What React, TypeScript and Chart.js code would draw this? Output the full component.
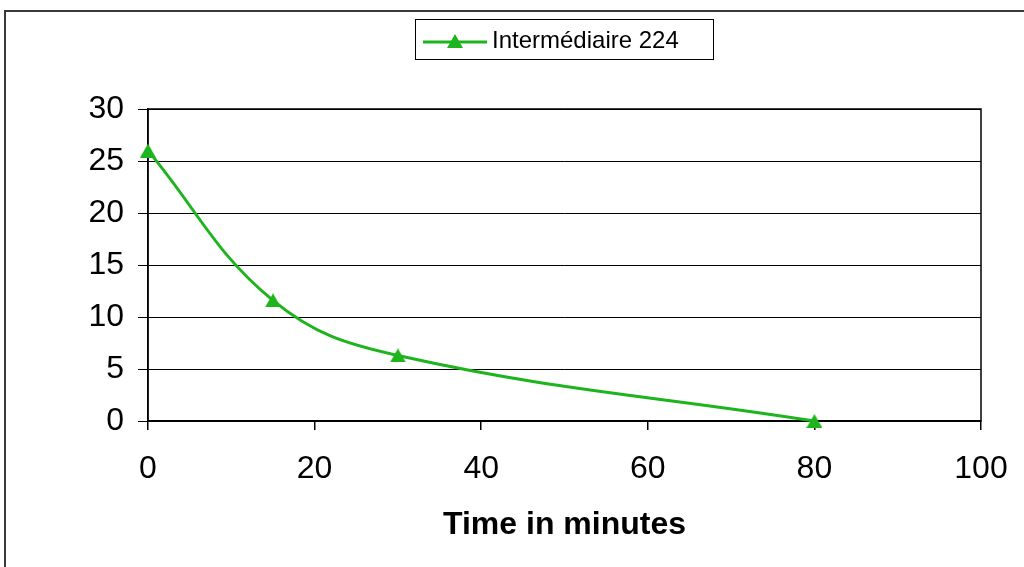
import React, { useEffect, useRef } from "react";
import { Chart, registerables } from "chart.js";

Chart.register(...registerables);

const seriesLabel = "Intermédiaire 224";
const timeMinutes = [0, 15, 30, 80];
const values = [26, 11.6, 6.3, 0];
const xTicks = [0, 20, 40, 60, 80, 100];
const yTicks = [0, 5, 10, 15, 20, 25, 30];
const xTitle = "Time in minutes";

const GREEN = "rgb(30,180,30)";
const FONT = "'Liberation Sans', Arial, sans-serif";

function makeTriangle(): HTMLCanvasElement {
  const c = document.createElement("canvas");
  c.width = 16;
  c.height = 14;
  const ctx = c.getContext("2d")!;
  ctx.fillStyle = GREEN;
  ctx.beginPath();
  ctx.moveTo(8, 0);
  ctx.lineTo(16, 14);
  ctx.lineTo(0, 14);
  ctx.closePath();
  ctx.fill();
  return c;
}

export default function App() {
  const ref = useRef<HTMLCanvasElement | null>(null);

  useEffect(() => {
    const tri = makeTriangle();
    const framePlugin = {
      id: "frames",
      beforeDraw(chart: any) {
        const ctx = chart.ctx;
        ctx.save();
        ctx.fillStyle = "#fff";
        ctx.fillRect(0, 0, chart.width, chart.height);
        ctx.strokeStyle = "#3a3a3a";
        ctx.lineWidth = 2;
        ctx.strokeRect(5, 11, 1100, 700);
        ctx.restore();
      },
      beforeDatasetsDraw(chart: any) {
        const { ctx, chartArea: a } = chart;
        ctx.save();
        ctx.strokeStyle = "#000";
        ctx.lineWidth = 1.5;
        ctx.strokeRect(a.left, a.top, a.right - a.left, a.bottom - a.top);
        ctx.restore();
      },
      afterDraw(chart: any) {
        const ctx = chart.ctx;
        ctx.save();
        ctx.fillStyle = "#fff";
        ctx.fillRect(415.5, 19.5, 298, 40);
        ctx.strokeStyle = "#000";
        ctx.lineWidth = 1;
        ctx.strokeRect(415.5, 19.5, 298, 40);
        ctx.strokeStyle = GREEN;
        ctx.lineWidth = 3;
        ctx.beginPath();
        ctx.moveTo(423, 42);
        ctx.lineTo(487, 42);
        ctx.stroke();
        ctx.drawImage(tri, 455 - 8, 41 - 7);
        ctx.fillStyle = "#000";
        ctx.font = `24px ${FONT}`;
        ctx.textBaseline = "middle";
        ctx.textAlign = "left";
        ctx.fillText(seriesLabel, 492, 41);
        ctx.restore();
      },
    };

    const chart = new Chart(ref.current!, {
      type: "line",
      data: {
        datasets: [
          {
            label: seriesLabel,
            data: timeMinutes.map((t, i) => ({ x: t, y: values[i] })),
            borderColor: GREEN,
            backgroundColor: GREEN,
            borderWidth: 3,
            tension: 0.4,
            pointStyle: tri as any,
            pointRadius: 8,
            clip: false as any,
          },
        ],
      },
      options: {
        responsive: false,
        animation: false,
        events: [],
        layout: { padding: { top: 109, right: 43, left: 0, bottom: 0 } },
        plugins: { legend: { display: false }, tooltip: { enabled: false } },
        scales: {
          x: {
            type: "linear",
            min: 0,
            max: 100,
            afterFit(s: any) {
              s.height = 146;
              s.paddingLeft = 0;
              s.paddingRight = 0;
            },
            afterBuildTicks(s: any) {
              s.ticks = xTicks.map((v) => ({ value: v }));
            },
            grid: {
              drawOnChartArea: false,
              drawTicks: true,
              tickLength: 9,
              color: "#000",
              lineWidth: 1.5,
            },
            border: { display: true, color: "#000", width: 1.5 },
            ticks: {
              color: "#000",
              padding: 20,
              font: { family: FONT, size: 32 },
              maxRotation: 0,
            },
            title: {
              display: true,
              text: xTitle,
              color: "#000",
              font: { family: FONT, size: 32, weight: "bold" },
              padding: { top: 0, bottom: 23 },
            },
          },
          y: {
            type: "linear",
            min: 0,
            max: 30,
            afterFit(s: any) {
              s.width = 148;
              s.paddingTop = 0;
              s.paddingBottom = 0;
            },
            afterBuildTicks(s: any) {
              s.ticks = yTicks.map((v) => ({ value: v }));
            },
            grid: {
              drawOnChartArea: true,
              drawTicks: true,
              tickLength: 10,
              color: "#000",
              lineWidth: 1,
            },
            border: { display: true, color: "#000", width: 1.5 },
            ticks: {
              color: "#000",
              padding: 14,
              font: { family: FONT, size: 32 },
            },
          },
        },
      },
      plugins: [framePlugin],
    });
    return () => chart.destroy();
  }, []);

  return (
    <div style={{ position: "fixed", left: 0, top: 0, width: 1024, height: 567, background: "#fff" }}>
      <canvas ref={ref} width={1024} height={567} style={{ display: "block" }} />
    </div>
  );
}
